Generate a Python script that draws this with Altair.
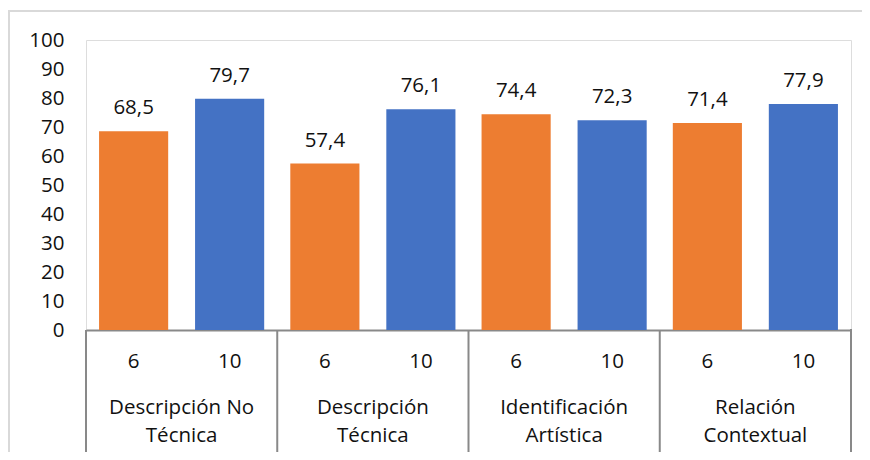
import altair as alt
import pandas as pd

categories = ["Descripción No Técnica", "Descripción Técnica", "Identificación Artística", "Relación Contextual"]
category_lines = ["Descripción No\nTécnica", "Descripción\nTécnica", "Identificación\nArtística", "Relación\nContextual"]
grades = ["6", "10"]
values_6 = [68.5, 57.4, 74.4, 71.4]
values_10 = [79.7, 76.1, 72.3, 77.9]
y_ticks = [0, 10, 20, 30, 40, 50, 60, 70, 80, 90, 100]

rows = []
for c, v6, v10 in zip(categories, values_6, values_10):
    for g, v in zip(grades, [v6, v10]):
        rows.append({"category": c, "grade": g, "value": v,
                     "label": f"{v:.1f}".replace(".", ",")})
df = pd.DataFrame(rows)
cat_df = pd.DataFrame({"category": categories, "display": category_lines})

FONT = "Open Sans"
FS = 20.5
TXT = "#111111"
AXC = "#898989"
W, H = 765, 290

xcat = alt.X("category:N", sort=categories,
             scale=alt.Scale(paddingInner=0, paddingOuter=0),
             axis=alt.Axis(labels=False, ticks=False, title=None, domain=True,
                           domainColor=AXC, domainWidth=2, grid=False))
xoff = alt.XOffset("grade:N", sort=grades,
                   scale=alt.Scale(paddingInner=0.28, paddingOuter=0.136))
yaxis = alt.Axis(values=y_ticks, title=None, domain=False, ticks=False, grid=False,
                 labelOverlap=False, labelPadding=22, labelFont=FONT,
                 labelFontSize=FS, labelColor=TXT)
yq = alt.Y("value:Q", scale=alt.Scale(domain=[0, 100], nice=False), axis=yaxis)

base = alt.Chart(df)

frame = alt.Chart(cat_df).mark_rect(fill=None, stroke="#d9d9d9", strokeWidth=2).encode(
    x=alt.value(-77), x2=alt.value(800), y=alt.value(-29), y2=alt.value(430))

bars = base.mark_bar().encode(
    x=xcat, xOffset=xoff, y=yq,
    color=alt.Color("grade:N", sort=grades,
                    scale=alt.Scale(domain=grades, range=["#ED7D31", "#4472C4"]),
                    legend=None))

value_labels = base.mark_text(font=FONT, fontSize=FS, color=TXT, baseline="alphabetic", dy=-17).encode(
    x=xcat, xOffset=xoff, y=yq, text="label:N")

grade_labels = base.mark_text(font=FONT, fontSize=FS, color=TXT, baseline="alphabetic").encode(
    x=xcat, xOffset=xoff, y=alt.value(328), text="grade:N")

cat_labels = alt.Chart(cat_df).mark_text(font=FONT, fontSize=FS, color=TXT, baseline="alphabetic",
                                         lineBreak="\n", lineHeight=28).encode(
    x=alt.X("category:N", sort=categories, bandPosition=0.5),
    y=alt.value(374), text="display:N")

seps = alt.Chart(cat_df).mark_rule(color=AXC, strokeWidth=2).encode(
    x=alt.X("category:N", sort=categories, bandPosition=0),
    y=alt.value(H), y2=alt.value(412))

last_sep = alt.Chart(cat_df).transform_filter(
    alt.datum.category == categories[-1]).mark_rule(color=AXC, strokeWidth=2).encode(
    x=alt.X("category:N", sort=categories, bandPosition=1),
    y=alt.value(H - 1), y2=alt.value(412))

chart = alt.layer(frame, bars, value_labels, grade_labels, cat_labels, seps, last_sep).properties(
    width=W, height=H,
    autosize=alt.AutoSizeParams(type="none"),
    padding={"left": 78, "top": 32, "right": 11, "bottom": 122},
).configure_view(stroke=None).configure(background="white").configure_axisY(
    labelOverlap=False, values=y_ticks)

chart.save("out.html", embed_options={"renderer": "svg", "actions": False})
